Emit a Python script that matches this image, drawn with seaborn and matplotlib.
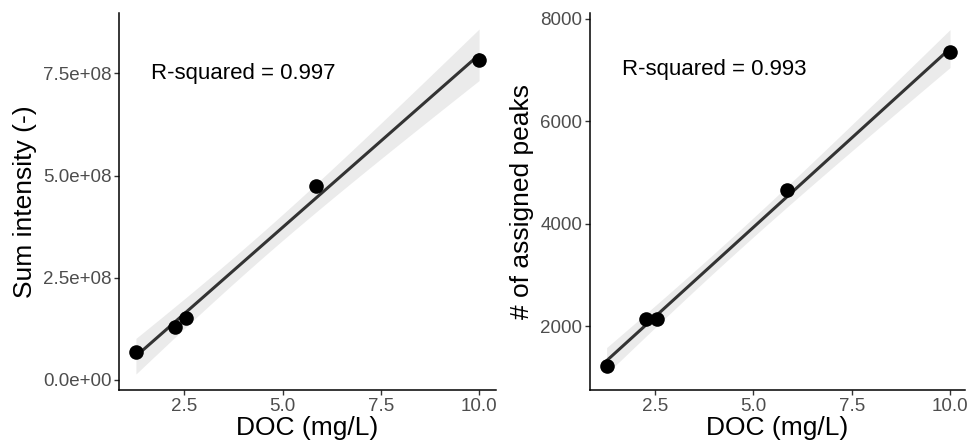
import numpy as np
import pandas as pd
import matplotlib
matplotlib.use("Agg")
import matplotlib.pyplot as plt
import seaborn as sns

doc_mg_l = [1.27, 2.27, 2.54, 5.86, 10.0]
sum_intensity = [0.68e8, 1.29e8, 1.52e8, 4.75e8, 7.84e8]
assigned_peaks = [1226, 2140, 2130, 4650, 7347]

r2_labels = ["R-squared = 0.997", "R-squared = 0.993"]
y_labels = ["Sum intensity (-)", "# of assigned peaks"]
x_ticks = [2.5, 5.0, 7.5, 10.0]
y_ticks_left = [0.0, 2.5e8, 5.0e8, 7.5e8]
y_ticks_right = [2000, 4000, 6000, 8000]

T_975_DF3 = 3.182446  # t-Quantil, n-2 = 3 Freiheitsgrade

sns.set_theme(style="ticks")
plt.rcParams['font.family'] = ['Liberation Sans', 'DejaVu Sans']

fig = plt.figure(figsize=(9.71, 4.45), dpi=100)
ax1 = fig.add_axes([0.1226, 0.1236, 0.3882, 0.8472])
ax2 = fig.add_axes([0.6073, 0.1236, 0.3865, 0.8472])


def lm_plot(ax, x, y):
    x = np.asarray(x, dtype=float)
    y = np.asarray(y, dtype=float)
    n = len(x)
    b, a = np.polyfit(x, y, 1)
    xs = np.linspace(x.min(), x.max(), 80)
    fit = a + b * xs
    resid = y - (a + b * x)
    s = np.sqrt(np.sum(resid ** 2) / (n - 2))
    se = s * np.sqrt(1 / n + (xs - x.mean()) ** 2 / np.sum((x - x.mean()) ** 2))
    ax.fill_between(xs, fit - T_975_DF3 * se, fit + T_975_DF3 * se,
                    color="#EBEBEB", lw=0, zorder=1)
    ax.plot(xs, fit, color="#333333", lw=2.2, zorder=2)
    df = pd.DataFrame({"x": x, "y": y})
    sns.scatterplot(data=df, x="x", y="y", ax=ax, color="black", s=110,
                    edgecolor="black", linewidth=0, zorder=3)


lm_plot(ax1, doc_mg_l, sum_intensity)
lm_plot(ax2, doc_mg_l, assigned_peaks)

ax1.set_xlim(0.84, 10.43)
ax1.set_ylim(-0.245e8, 8.98e8)
ax2.set_xlim(0.84, 10.38)
ax2.set_ylim(752, 8109)

ax1.set_yticks(y_ticks_left)
ax1.set_yticklabels([f"{v:.1e}".replace("e+0", "e+0") for v in y_ticks_left])
ax2.set_yticks(y_ticks_right)
ax2.set_yticklabels([str(v) for v in y_ticks_right])

for ax, ylab, lab, ytxt in zip([ax1, ax2], y_labels, r2_labels, [7.5e8, 7000]):
    ax.set_xticks(x_ticks)
    ax.set_xticklabels([f"{v:.1f}" for v in x_ticks])
    ax.set_xlabel("DOC (mg/L)", fontsize=19, color="black", labelpad=1)
    ax.set_ylabel(ylab, fontsize=19, color="black", labelpad=4)
    ax.tick_params(axis="both", labelsize=13.5, labelcolor="#4D4D4D",
                   color="#333333", length=3.5, width=1, pad=2)
    for side in ["left", "bottom"]:
        ax.spines[side].set_color("black")
        ax.spines[side].set_linewidth(1.1)
    sns.despine(ax=ax)
    ax.text(4.0, ytxt, lab, fontsize=16, ha="center", va="center", color="black")

fig.savefig("out.png", dpi=100)
